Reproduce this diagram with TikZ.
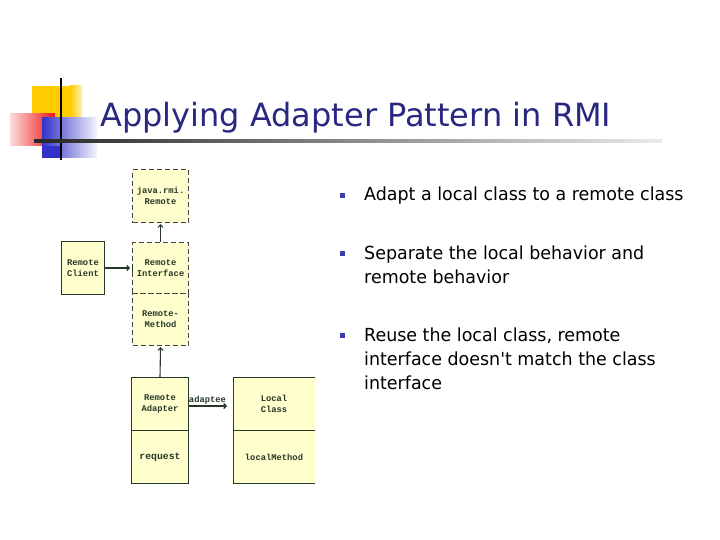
\documentclass[tikz,border=0pt]{standalone}
\usepackage{fontspec}
\setmainfont{DejaVu Sans}[FakeStretch=0.97, Ligatures=TeXOff]
\newfontfamily\titlefont{DejaVu Sans}
\newfontfamily\boxfont{Liberation Mono}
\usetikzlibrary{arrows.meta}
\definecolor{titleblue}{RGB}{40,40,130}
\definecolor{boxfill}{RGB}{255,255,205}
\definecolor{boxline}{RGB}{40,56,40}
\definecolor{dashline}{RGB}{70,70,70}
\definecolor{bulletblue}{RGB}{60,60,175}
\definecolor{logoyellow}{RGB}{255,204,0}
\definecolor{logored}{RGB}{240,20,20}
\definecolor{logoblue}{RGB}{50,50,200}
\begin{document}
\begin{tikzpicture}[x=1pt,y=-1pt,
  umlbox/.style={draw=boxline, fill=boxfill, line width=1pt, inner sep=0pt, anchor=north west},
  dashbox/.style={draw=dashline, fill=boxfill, line width=1.1pt, dash pattern=on 5pt off 3pt, inner sep=0pt, anchor=north west},
  boxtext/.style={font=\boxfont\bfseries\fontsize{8.8}{11}\selectfont, text=boxline, align=center},
  conn/.style={draw=boxline, line width=1.1pt},
  headtip/.style={-{Straight Barb[length=2.5pt,width=5pt]}},
  bodytext/.style={font=\fontsize{18}{24}\selectfont, anchor=base west, inner sep=0pt},
  bulletmark/.style={fill=bulletblue}
]
\useasboundingbox (0,0) rectangle (720,540);
\fill[white] (0,0) rectangle (720,540);

% logo
\fill[logoyellow] (32,86) rectangle (82,131);
\shade[left color=logoyellow, right color=logoyellow!30!white] (70,86) rectangle (82,131);
\shade[left color=logored!15!white, right color=logored] (10,114) rectangle (55,146);
\shade[left color=logoblue, right color=logoblue!5!white] (42,118) rectangle (97,158);
\fill[logoblue] (42,146) rectangle (62,158);
\draw[black, line width=2pt] (61,78) -- (61,160);
\shade[left color=black!85, right color=black!8] (34,140) rectangle (662,142.5);

% title
\node[font=\titlefont\fontsize{32}{38}\selectfont, text=titleblue, anchor=base west, inner sep=0pt] (title) at (100,127) {Applying Adapter Pattern in RMI};

% diagram boxes
\node[dashbox, minimum width=56, minimum height=53] (rmi) at (132,169) {};
\node[boxtext] (rmitext) at (rmi.center) {java.rmi.\\Remote};

\node[dashbox, minimum width=56, minimum height=51] (rinter) at (132,242) {};
\node[boxtext] (rintertext) at (rinter.center) {Remote\\Interface};
\node[dashbox, minimum width=56, minimum height=52] (rmeth) at (132,293) {};
\node[boxtext] (rmethtext) at (rmeth.center) {Remote-\\Method};

\node[umlbox, minimum width=43, minimum height=53] (client) at (61,241) {};
\node[boxtext] (clienttext) at (client.center) {Remote\\Client};

\node[umlbox, minimum width=57, minimum height=53] (adtop) at (131,377) {};
\node[boxtext] (adtoptext) at (adtop.center) {Remote\\Adapter};
\node[umlbox, minimum width=57, minimum height=53] (adbot) at (131,430) {};
\node[boxtext, font=\boxfont\bfseries\fontsize{9.8}{11}\selectfont] (adbottext) at (adbot.center) {request};

% local class (cut off at right)
\coordinate (lcnw) at (233,377);
\coordinate (lcmid) at (233,430);
\coordinate (lcsw) at (233,483);
\fill[boxfill] (233,377) rectangle (315,483);
\draw[boxline, line width=1pt] (315,377) -- (lcnw) -- (lcsw) -- (315,483);
\draw[boxline, line width=1pt] (lcmid) -- (315,430);
\node[boxtext] (lctop) at (274,404) {Local\\Class};
\node[boxtext] (lcbot) at (274,457) {localMethod};

% connectors
\draw[conn, headtip, shorten >=1pt] (rinter.north) -- (rmi.south);
\draw[conn, headtip, shorten >=1pt] (adtop.north) -- (rmeth.south);
\draw[conn, headtip, shorten >=2pt] (client.east) -- (client.east -| rinter.west);
\draw[boxline, line width=1pt] ([yshift=-3.5pt]client.east -| rinter.west) -- ([yshift=3.5pt]client.east -| rinter.west);
\coordinate (lcL) at (233,406);
\draw[conn, headtip, shorten >=6pt] (adtop.east |- lcL) -- (lcL)
  node[pos=0.42, above=1pt, boxtext, inner sep=0pt] (adaptee) {adaptee};

% bullets
\fill[bulletmark] (340,193) rectangle (345,198);
\fill[bulletmark] (340,251) rectangle (345,256);
\fill[bulletmark] (340,333) rectangle (345,338);
\node[bodytext] (b1) at (364,201) {Adapt a local class to a remote class};
\node[bodytext] (b2a) at (364,259) {Separate the local behavior and};
\node[bodytext] (b2b) at (364,283) {remote behavior};
\node[bodytext] (b3a) at (364,341) {Reuse the local class, remote};
\node[bodytext] (b3b) at (364,365) {interface doesn't match the class};
\node[bodytext] (b3c) at (364,389) {interface};
\end{tikzpicture}
\end{document}
